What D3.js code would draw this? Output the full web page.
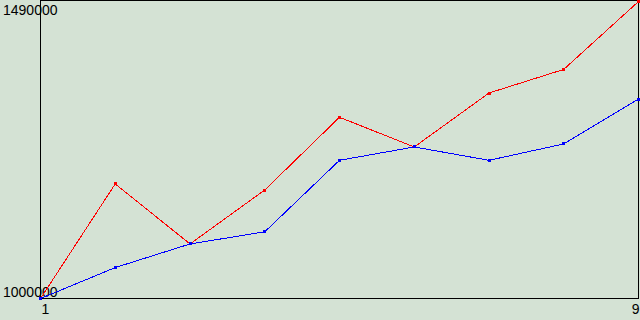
<!DOCTYPE html>
<html>
<head>
<meta charset="utf-8">
<script src="https://cdn.jsdelivr.net/npm/d3@7"></script>
<style>
  body { margin: 0; background: #d4e2d4; }
  svg { display: block; }
  text { font-family: "Liberation Sans", Arial, sans-serif; font-size: 14px; fill: #000; }
</style>
</head>
<body>
<div id="chart-area"></div>
<script>
var cw = 640
var ch = 320
var m = {l: 40, t: 0, r: 1, b: 21}

// data
var xs = [1, 2, 3, 4, 5, 6, 7, 8, 9]
var redSeries = [1000000, 1189000, 1090000, 1179000, 1299000, 1250000, 1339000, 1378000, 1490000]
var blueSeries = [1000000, 1051000, 1090000, 1110000, 1228000, 1250000, 1228000, 1255000, 1329000]
var yMin = 1000000
var yMax = 1490000
var xTickLabels = ["1", "9"]

var svg = d3.select("#chart-area").append("svg")
    .attr("width", cw)
    .attr("height", ch)

svg.append("rect")
    .attr("width", cw)
    .attr("height", ch)
    .attr("fill", "#d4e2d4")

var x = d3.scaleLinear()
    .domain([1, 9])
    .range([m.l + 0.5, cw - m.r - 0.5])

var y = d3.scaleLinear()
    .domain([yMin, yMax])
    .range([ch - m.b - 0.5, m.t + 1.5])

// frame
svg.append("rect")
    .attr("x", m.l + 0.5)
    .attr("y", m.t + 0.5)
    .attr("width", cw - m.l - m.r - 1)
    .attr("height", ch - m.t - m.b - 1)
    .attr("fill", "none")
    .attr("stroke", "#000")
    .attr("stroke-width", 1)
    .attr("shape-rendering", "crispEdges")

// y labels
svg.append("text")
    .attr("x", 3)
    .attr("y", 15)
    .text(d3.format("d")(yMax))

svg.append("text")
    .attr("x", 3)
    .attr("y", 297)
    .text(d3.format("d")(yMin))

// x labels
svg.append("text")
    .attr("x", x(1) + 1)
    .attr("y", 314)
    .text(xTickLabels[0])

svg.append("text")
    .attr("x", x(9) + 1)
    .attr("y", 314)
    .attr("text-anchor", "end")
    .text(xTickLabels[1])

function drawSeries(vals, color) {
    var line = d3.line()
        .x((d, i) => x(xs[i]))
        .y(d => y(d))

    svg.append("path")
        .datum(vals)
        .attr("d", line)
        .attr("fill", "none")
        .attr("stroke", color)
        .attr("stroke-width", 1)
        .attr("shape-rendering", "crispEdges")

    svg.selectAll(null)
        .data(vals)
        .enter()
        .append("rect")
        .attr("x", (d, i) => Math.floor(x(xs[i])) - 1)
        .attr("y", d => Math.floor(y(d)) - 1)
        .attr("width", 3)
        .attr("height", 3)
        .attr("fill", color)
}

drawSeries(redSeries, "#ff0000")
drawSeries(blueSeries, "#0000ff")
</script>
</body>
</html>
